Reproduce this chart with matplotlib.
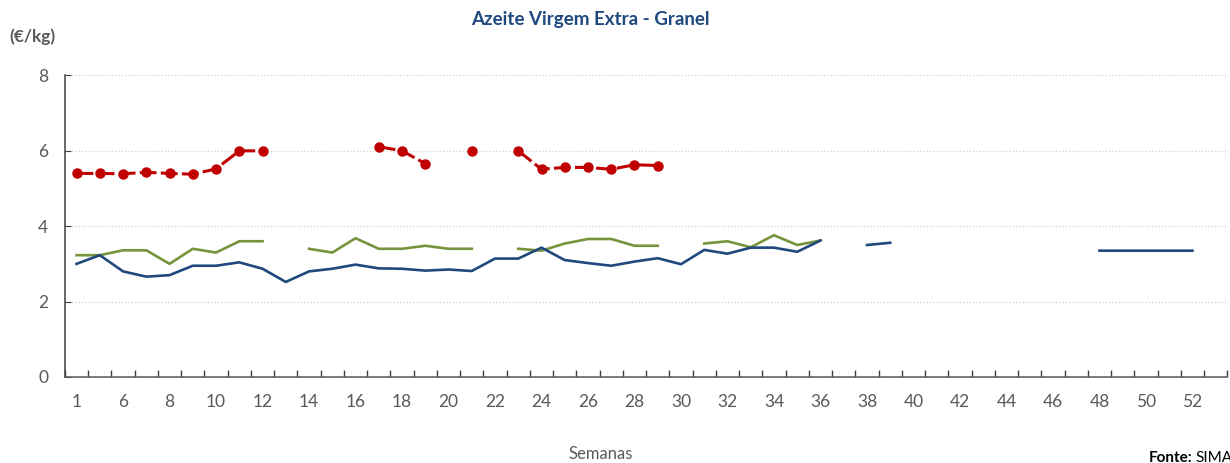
import numpy as np
import matplotlib.pyplot as plt
from matplotlib.ticker import FixedLocator

nan = np.nan

# Week categories on the x axis (index 1 is an unlabeled week between 1 and 6)
semanas = ["1", "5"] + [str(w) for w in range(6, 54)]

# Series values (€/kg), NaN where no quote
verde = [3.23, 3.23, 3.36, 3.36, 3.00, 3.40, 3.30, 3.60, 3.60, nan,
         3.40, 3.30, 3.68, 3.40, 3.40, 3.48, 3.40, 3.40, nan, 3.40,
         3.35, 3.54, 3.66, 3.66, 3.48, 3.48, nan, 3.54, 3.60, 3.44,
         3.76, 3.50, 3.62] + [nan] * 17

azul = [3.00, 3.23, 2.80, 2.66, 2.70, 2.95, 2.95, 3.04, 2.87, 2.52,
        2.80, 2.87, 2.98, 2.88, 2.87, 2.82, 2.85, 2.81, 3.14, 3.14,
        3.43, 3.10, 3.02, 2.95, 3.06, 3.15, 2.99, 3.37, 3.27, 3.43,
        3.43, 3.32, 3.62, nan, 3.50, 3.56, nan, nan, nan, nan,
        nan, nan, nan, nan, 3.35, 3.35, 3.35, 3.35, 3.35, nan]

vermelho = [5.40, 5.40, 5.39, 5.43, 5.40, 5.38, 5.52, 6.00, 6.00, nan,
            nan, nan, nan, 6.11, 6.00, 5.66, nan, 6.00, nan, 6.00,
            5.51, 5.56, 5.56, 5.51, 5.63, 5.61] + [nan] * 24

plt.rcParams["font.family"] = ["Lato", "DejaVu Sans"]

fig = plt.figure(figsize=(12.3, 4.63), dpi=100)
ax = fig.add_axes([0.0528, 0.186, 0.945, 0.651])

x = np.arange(len(semanas))
ax.plot(x, verde, color="#77933C", linewidth=1.9, zorder=3)
ax.plot(x, azul, color="#1F497D", linewidth=1.9, zorder=4)
ax.plot(x, vermelho, color="#C00000", linewidth=2.2, linestyle=(0, (5.5, 1.4)),
        marker="o", markersize=6.5, zorder=5)

ax.set_xlim(-0.5, len(semanas) - 0.5)
ax.set_ylim(0, 8)
ax.set_yticks([0, 2, 4, 6, 8])
ax.grid(axis="y", color="#D0D0D0", linestyle=":", linewidth=0.9)
ax.set_axisbelow(True)

ax.set_xticks(x[::2])
ax.set_xticklabels(semanas[::2])
ax.xaxis.set_minor_locator(FixedLocator(np.arange(-0.5, len(semanas), 1)))
ax.tick_params(axis="x", which="major", length=0, pad=12, labelsize=12.5,
               labelcolor="#595959")
ax.tick_params(axis="x", which="minor", length=5, direction="in",
               color="#404040", width=1)
ax.tick_params(axis="y", length=4, direction="in", pad=12, labelsize=12.5,
               labelcolor="#595959", color="#404040")

for side in ("top", "right"):
    ax.spines[side].set_visible(False)
ax.spines["left"].set_color("#404040")
ax.spines["bottom"].set_color("#595959")
ax.spines["left"].set_linewidth(1.1)
ax.spines["bottom"].set_linewidth(1.1)

fig.text(590 / 1230, 1 - 20 / 463, "Azeite Virgem Extra - Granel",
         ha="center", va="center", fontsize=13.5, fontweight="bold",
         color="#1F497D")
fig.text(32 / 1230, 1 - 37 / 463, "(€/kg)", ha="center", va="center",
         fontsize=12.5, fontweight="bold", color="#595959")
fig.text(601 / 1230, 1 - 454 / 463, "Semanas", ha="center", va="center",
         fontsize=12, color="#595959")
fig.text(1192 / 1230, 1 - 458 / 463, "Fonte:", ha="right", va="center",
         fontsize=11, fontweight="bold", color="black")
fig.text(1195 / 1230, 1 - 458 / 463, "SIMA", ha="left", va="center",
         fontsize=11, color="black")

fig.savefig("out.png", dpi=100)
